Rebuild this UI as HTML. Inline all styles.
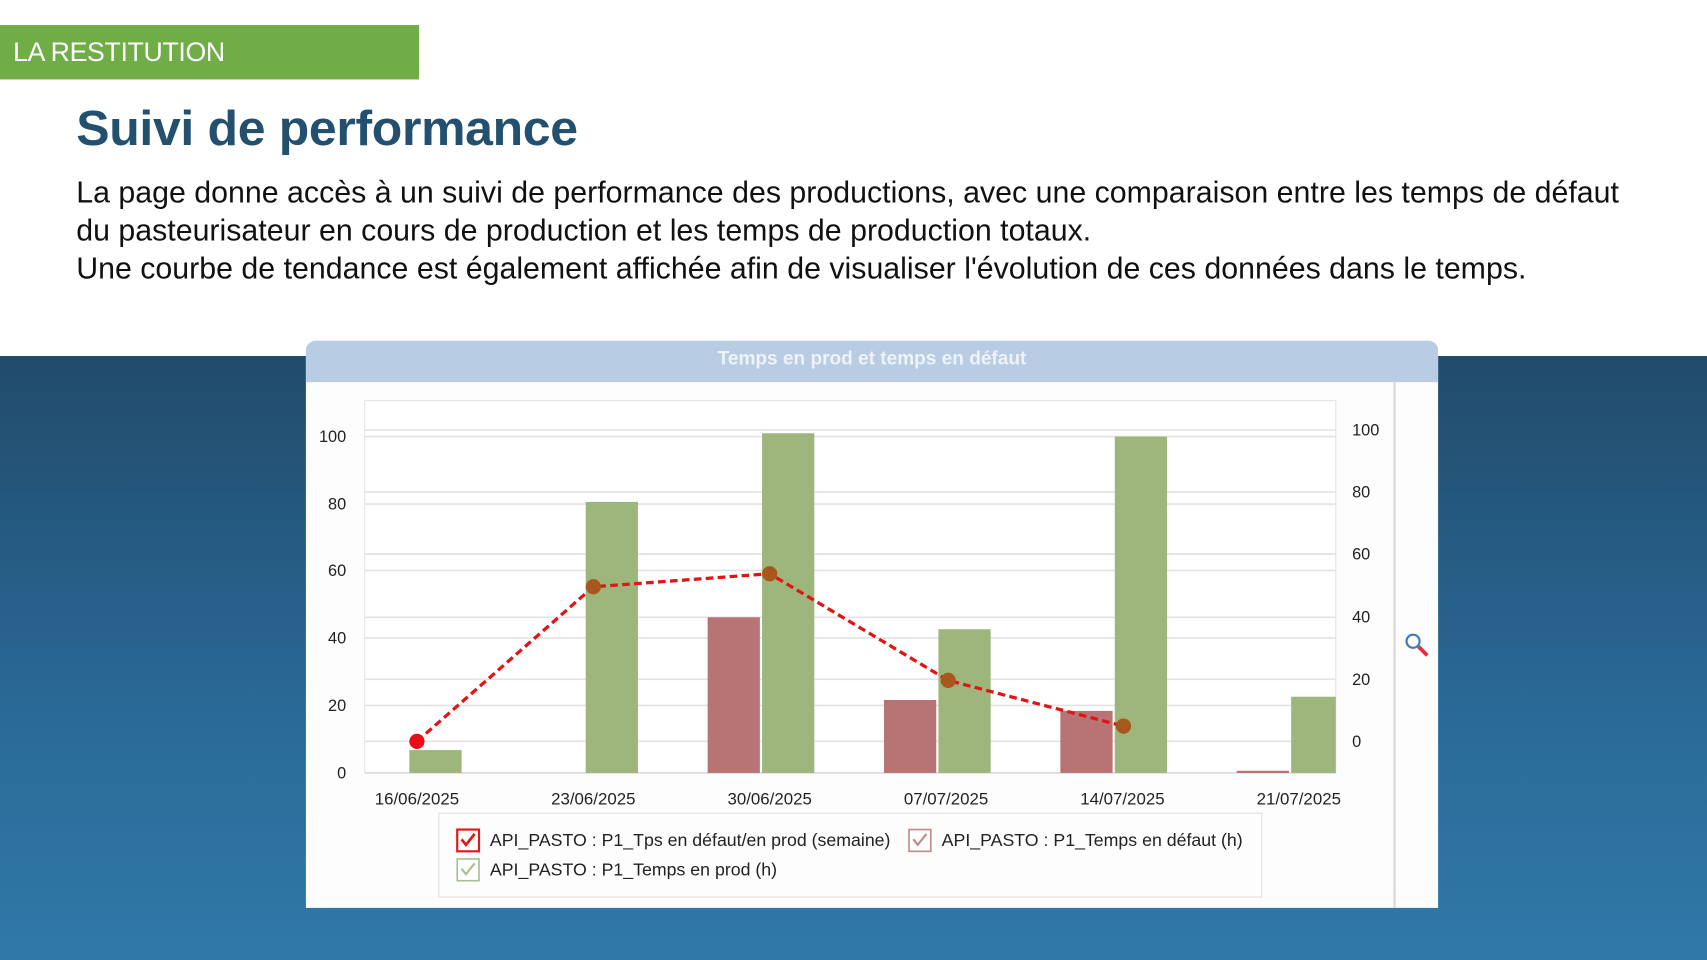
<!DOCTYPE html>
<html><head><meta charset="utf-8"><style>
html,body{margin:0;padding:0;width:1707px;height:960px;overflow:hidden;background:#fff}
#w{position:absolute;left:0;top:0;width:1568px;height:882px;transform:scale(1.08865);transform-origin:0 0;font-family:"Liberation Sans",sans-serif}
.bg{position:absolute;left:0;top:327px;width:1568px;height:555px;background:linear-gradient(#214b6b,#2a6a98 60%,#3079a8)}
.ban{position:absolute;left:0;top:23px;width:385px;height:50px;background:#70ad47;color:#fff;font-size:24.5px;line-height:52px;padding-left:12px;box-sizing:border-box;letter-spacing:-0.3px}
.t{position:absolute;left:70px;top:92px;font-size:45px;font-weight:bold;color:#22506e;letter-spacing:-0.3px;transform-origin:0 0;transform:scaleX(1.02);white-space:nowrap}
.p{position:absolute;left:70px;font-size:28px;color:#111;white-space:nowrap;transform-origin:0 0;transform:scaleX(0.995)}
</style></head><body><div id="w">
<div class="bg"></div>
<div class="ban">LA RESTITUTION</div>
<div class="t">Suivi de performance</div>
<div class="p" style="top:161px">La page donne accès à un suivi de performance des productions, avec une comparaison entre les temps de défaut</div>
<div class="p" style="top:196px">du pasteurisateur en cours de production et les temps de production totaux.</div>
<div class="p" style="top:231px">Une courbe de tendance est également affichée afin de visualiser l'évolution de ces données dans le temps.</div>
<svg width="1568" height="882" style="position:absolute;left:0;top:0" font-family="Liberation Sans, sans-serif">
<path d="M281 834V322a9 9 0 0 1 9-9h1022a9 9 0 0 1 9 9V834Z" fill="#fcfdfc"/>
<path d="M281 351V322a9 9 0 0 1 9-9h1022a9 9 0 0 1 9 9V351Z" fill="#b8cce4"/>
<text x="801" y="335" text-anchor="middle" font-size="17.5" font-weight="bold" fill="#eef3f9">Temps en prod et temps en défaut</text>
<line x1="1281" y1="351" x2="1281" y2="834" stroke="#d8d8d8" stroke-width="2"/>
<rect x="335" y="368" width="892" height="342" fill="#fff" stroke="#e4e4e4"/>
<g stroke="#e2e2e2" stroke-width="1.5">
<line x1="335" x2="1227" y1="401" y2="401"/><line x1="335" x2="1227" y1="463" y2="463"/><line x1="335" x2="1227" y1="524" y2="524"/><line x1="335" x2="1227" y1="586" y2="586"/><line x1="335" x2="1227" y1="648" y2="648"/>
<line x1="335" x2="1227" y1="395" y2="395"/><line x1="335" x2="1227" y1="452" y2="452"/><line x1="335" x2="1227" y1="509" y2="509"/><line x1="335" x2="1227" y1="567" y2="567"/><line x1="335" x2="1227" y1="624" y2="624"/><line x1="335" x2="1227" y1="681" y2="681"/>
</g>
<line x1="335" x2="1227" y1="710" y2="710" stroke="#ccc"/>
<g font-size="15" fill="#222" text-anchor="end">
<text x="318" y="715">0</text><text x="318" y="653">20</text><text x="318" y="591">40</text><text x="318" y="529">60</text><text x="318" y="468">80</text><text x="318" y="406">100</text>
</g>
<g font-size="15" fill="#222">
<text x="1242" y="686">0</text><text x="1242" y="629">20</text><text x="1242" y="572">40</text><text x="1242" y="514">60</text><text x="1242" y="457">80</text><text x="1242" y="400">100</text>
</g>
<g fill="#b87474">
<rect x="650" y="567" width="48" height="143"/><rect x="812" y="643" width="48" height="67"/><rect x="974" y="653" width="48" height="57"/><rect x="1136" y="708" width="48" height="2"/>
</g>
<g fill="#9db67b">
<rect x="376" y="689" width="48" height="21"/><rect x="538" y="461" width="48" height="249"/><rect x="700" y="398" width="48" height="312"/><rect x="862" y="578" width="48" height="132"/><rect x="1024" y="401" width="48" height="309"/><rect x="1186" y="640" width="41" height="70"/>
</g>
<polyline points="383,681 545,539 707,527 871,625 1032,667" fill="none" stroke="#e01515" stroke-width="3" stroke-dasharray="7,4"/>
<circle cx="383" cy="681" r="7" fill="#e80f1a"/>
<g fill="#a8581c"><circle cx="545" cy="539" r="7"/><circle cx="707" cy="527" r="7"/><circle cx="871" cy="625" r="7"/><circle cx="1032" cy="667" r="7"/></g>
<g font-size="15.5" fill="#222" text-anchor="middle">
<text x="383" y="739">16/06/2025</text><text x="545" y="739">23/06/2025</text><text x="707" y="739">30/06/2025</text><text x="869" y="739">07/07/2025</text><text x="1031" y="739">14/07/2025</text><text x="1193" y="739">21/07/2025</text>
</g>
<rect x="403" y="747" width="756" height="77" fill="#fcfdfc" stroke="#e0e0e0"/>
<rect x="420" y="762" width="20" height="20" fill="#fff" stroke="#e01818" stroke-width="2"/>
<path d="M424 771l4 5 8-10" fill="none" stroke="#e01818" stroke-width="2.5"/>
<rect x="835" y="762" width="20" height="20" fill="#fff" stroke="#c08a8a" stroke-width="1.5"/>
<path d="M839 771l4 5 8-10" fill="none" stroke="#c08a8a" stroke-width="2"/>
<rect x="420" y="789" width="20" height="20" fill="#fff" stroke="#a9bf92" stroke-width="1.5"/>
<path d="M424 798l4 5 8-10" fill="none" stroke="#a9bf92" stroke-width="2"/>
<g font-size="16.3" fill="#222">
<text x="450" y="777">API_PASTO : P1_Tps en défaut/en prod (semaine)</text>
<text x="865" y="777">API_PASTO : P1_Temps en défaut (h)</text>
<text x="450" y="804">API_PASTO : P1_Temps en prod (h)</text>
</g>
<circle cx="1298" cy="589" r="6" fill="none" stroke="#3f78b8" stroke-width="2"/>
<line x1="1303" y1="594" x2="1311" y2="602" stroke="#e03040" stroke-width="3.5"/>
</svg>
</div></body></html>
